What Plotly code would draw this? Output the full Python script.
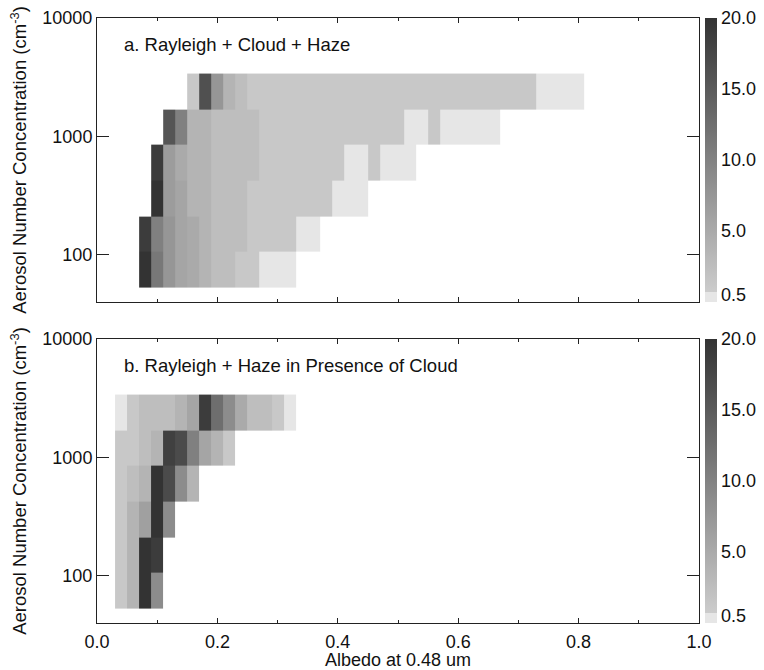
import math
import plotly.graph_objects as go

# Aerosol number concentration bins (cm^-3), centres of factor-of-two bins
conc_bins = [75, 150, 300, 600, 1200, 2400]

# Albedo bin centres (bin width 0.02)
albedo_a = [0.08, 0.10, 0.12, 0.14, 0.16, 0.18, 0.20, 0.22, 0.24, 0.26,
            0.28, 0.30, 0.32, 0.34, 0.36, 0.38, 0.40, 0.42, 0.44, 0.46,
            0.48, 0.50, 0.52, 0.54, 0.56, 0.58, 0.60, 0.62, 0.64, 0.66,
            0.68, 0.70, 0.72, 0.74, 0.76, 0.78, 0.80]
albedo_b = [0.04, 0.06, 0.08, 0.10, 0.12, 0.14, 0.16, 0.18, 0.20, 0.22,
            0.24, 0.26, 0.28, 0.30, 0.32]

# Panel a: Rayleigh + Cloud + Haze, frequency (%) per albedo bin, one list per concentration bin
freq_a_75 = [20.0, 11.3, 7.5, 5.6, 5.0, 3.7, 2.5, 2.5, 1.2, 1.2, 0.5, 0.5, 0.5]
freq_a_150 = [18.9, 10.3, 7.5, 5.6, 5.0, 3.7, 2.5, 2.5, 2.5, 1.2, 1.2, 1.2, 1.2,
              0.5, 0.5]
freq_a_300 = [None, 20.0, 6.75, 5.6, 3.7, 3.7, 2.5, 2.5, 2.5,
              1.2, 1.2, 1.2, 1.2, 1.2, 1.2, 1.2, 0.5, 0.5, 0.5]
freq_a_600 = [None, 18.9, 6.75, 5.0, 3.7, 3.7, 2.5, 2.5, 2.5, 2.5,
              1.2, 1.2, 1.2, 1.2, 1.2, 1.2, 1.2, 0.5, 0.5, 1.2, 0.5, 0.5, 0.5]
freq_a_1200 = [None, None, 15.7, 10.3, 3.7, 3.7, 2.5, 2.5, 2.5, 2.5,
               1.2, 1.2, 1.2, 1.2, 1.2, 1.2, 1.2, 1.2, 1.2, 1.2, 1.2, 1.2,
               0.5, 0.5, 1.2, 0.5, 0.5, 0.5, 0.5, 0.5]
freq_a_2400 = [None, None, None, None, 1.2, 16.3, 7.5, 3.7, 2.5,
               1.2, 1.2, 1.2, 1.2, 1.2, 1.2, 1.2, 1.2, 1.2, 1.2, 1.2, 1.2,
               1.2, 1.2, 1.2, 1.2, 1.2, 1.2, 1.2, 1.2, 1.2, 1.2, 1.2, 1.2,
               0.5, 0.5, 0.5, 0.5]

# Panel b: Rayleigh + Haze in presence of cloud
freq_b_75 = [1.2, 3.7, 20.0, 8.8]
freq_b_150 = [1.2, 3.7, 20.0, 18.9]
freq_b_300 = [1.2, 3.7, 6.25, 20.0, 8.8]
freq_b_600 = [1.2, 2.5, 3.7, 20.0, 17.0, 8.8, 3.7]
freq_b_1200 = [1.2, 1.2, 2.5, 3.7, 18.4, 17.0, 10.3, 5.6, 3.7, 1.2]
freq_b_2400 = [0.5, 1.2, 2.5, 2.5, 2.5, 3.7, 5.6, 18.9, 12.6, 8.8, 5.0, 2.5,
               2.5, 1.2, 0.5]

cbar_vals = [0.5, 5, 10, 15, 20]
cbar_text = ["0.5", "5.0", "10.0", "15.0", "20.0"]
y_tickvals = [100, 1000, 10000]
x_tickvals = [0.0, 0.2, 0.4, 0.6, 0.8, 1.0]


def pad(row, n):
    return row + [None] * (n - len(row))


z_a = [pad(r, len(albedo_a)) for r in
       [freq_a_75, freq_a_150, freq_a_300, freq_a_600, freq_a_1200, freq_a_2400]]
z_b = [pad(r, len(albedo_b)) for r in
       [freq_b_75, freq_b_150, freq_b_300, freq_b_600, freq_b_1200, freq_b_2400]]

FONT = "Liberation Sans, Arial, Helvetica, sans-serif"
TXT = dict(family=FONT, size=18, color="#111")
TITLE_TXT = dict(family=FONT, size=18.5, color="#111")
YTITLE_TXT = dict(family=FONT, size=18.5, color="#111")
grey_scale = [[0.0, "#e6e6e6"], [0.035, "#e6e6e6"], [0.035, "#cccccc"], [1.0, "#333333"]]

# paper-space geometry of the two stacked panels
dom_a = [0.5306, 1.0]
dom_b = [0.0, 0.4694]


def cbar(dom):
    return dict(
        x=1.0099, xanchor="left", xpad=0,
        y=dom[0], yanchor="bottom", ypad=0,
        len=dom[1] - dom[0], lenmode="fraction",
        thickness=12, outlinewidth=0,
        tickmode="array", tickvals=cbar_vals, ticktext=cbar_text,
        ticks="", tickfont=TXT,
    )


fig = go.Figure()
fig.add_trace(go.Heatmap(
    x=albedo_a, y=conc_bins, z=z_a, xaxis="x", yaxis="y",
    colorscale=grey_scale, zmin=0, zmax=20, colorbar=cbar(dom_a),
    hoverongaps=False,
))
fig.add_trace(go.Heatmap(
    x=albedo_b, y=conc_bins, z=z_b, xaxis="x2", yaxis="y2",
    colorscale=grey_scale, zmin=0, zmax=20, colorbar=cbar(dom_b),
    hoverongaps=False,
))

axis_line = dict(showline=True, linecolor="#222", linewidth=1, mirror="ticks",
                 showgrid=False, zeroline=False, ticks="inside", tickcolor="#222",
                 automargin=False)

xcommon = dict(range=[0, 1], tickvals=x_tickvals, ticklen=5, tickwidth=1,
               minor=dict(dtick=0.1, ticks="inside", ticklen=3, tickcolor="#222"),
               **axis_line)
ycommon = dict(type="log", range=[math.log10(40), 4], tickvals=y_tickvals,
               ticktext=["100", "1000", "10000"], ticklen=12, tickwidth=1,
               tickfont=TXT,
               title=dict(text="Aerosol Number Concentration (cm<sup>-3</sup>)",
                          font=YTITLE_TXT, standoff=10),
               **axis_line)

fig.update_layout(
    width=764, height=670,
    margin=dict(l=97, r=61, t=18, b=47),
    paper_bgcolor="white", plot_bgcolor="white",
    font=TXT,
    showlegend=False,
    xaxis=dict(domain=[0, 1], anchor="y", showticklabels=False, **xcommon),
    yaxis=dict(domain=dom_a, anchor="x", **ycommon),
    xaxis2=dict(domain=[0, 1], anchor="y2", tickformat=".1f",
                tickfont=TXT, ticklabelstandoff=2,
                title=dict(text="Albedo at 0.48 um", font=TXT, standoff=8),
                **xcommon),
    yaxis2=dict(domain=dom_b, anchor="x2", **ycommon),
    annotations=[
        dict(text="a. Rayleigh + Cloud + Haze", xref="x domain", yref="y domain",
             x=0.042, y=0.905, xanchor="left", yanchor="middle", showarrow=False,
             font=TITLE_TXT),
        dict(text="b. Rayleigh + Haze in Presence of Cloud", xref="x2 domain", yref="y2 domain",
             x=0.042, y=0.905, xanchor="left", yanchor="middle", showarrow=False,
             font=TITLE_TXT),
    ],
)

fig.write_html("out.html")
